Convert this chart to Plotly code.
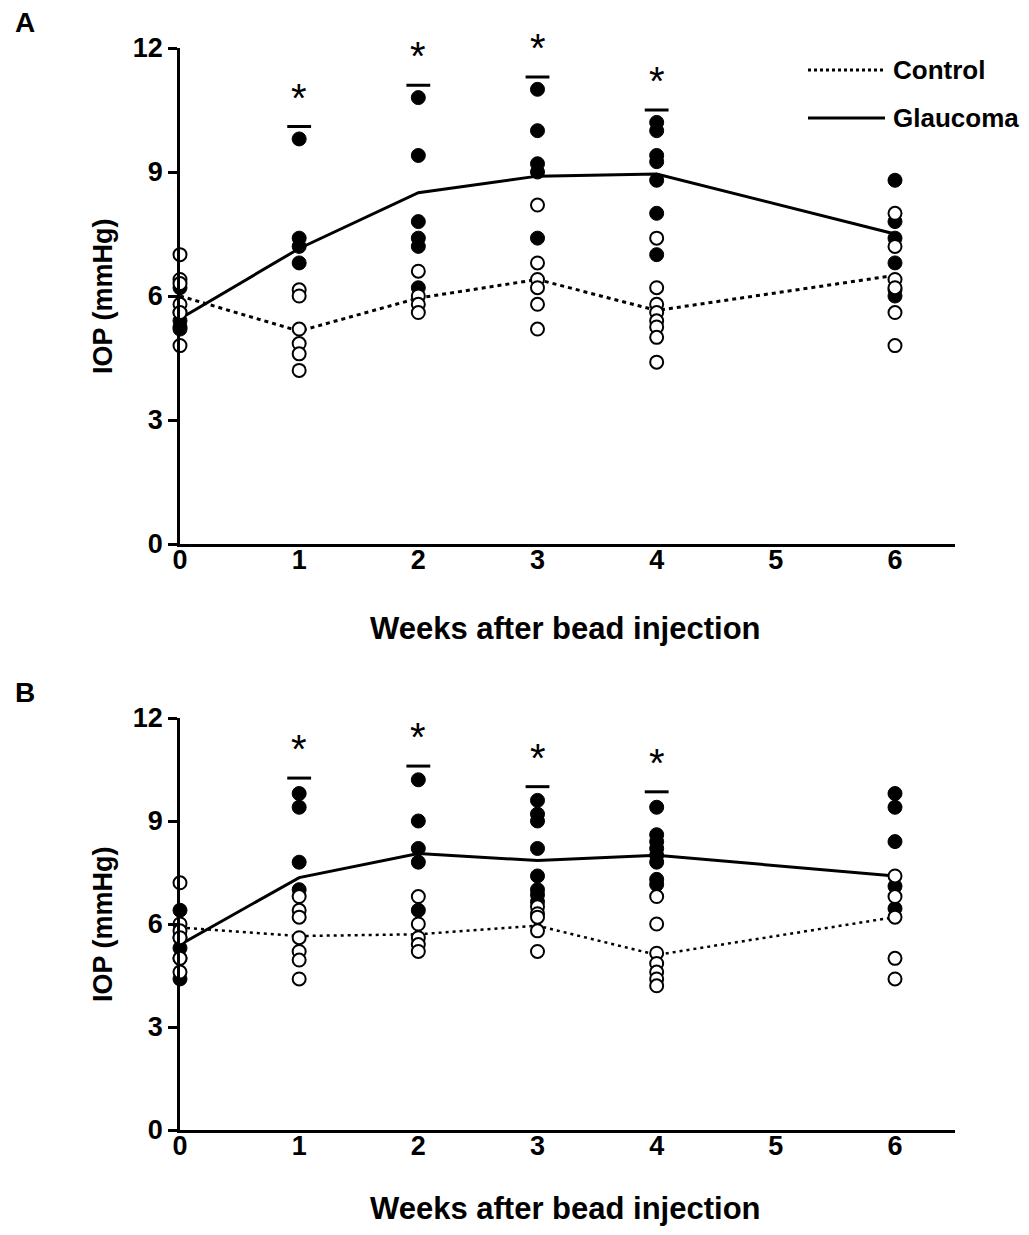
import plotly.graph_objects as go

FONT = "Liberation Sans, Arial, sans-serif"

weeks = [0, 1, 2, 3, 4, 6]
x_ticks = [0, 1, 2, 3, 4, 5, 6]
y_ticks = [0, 3, 6, 9, 12]

# Panel A individual eyes
a_control = [
    [7.0, 6.4, 6.3, 5.8, 5.6, 4.8],
    [6.15, 6.0, 5.2, 4.85, 4.6, 4.2],
    [6.6, 6.0, 5.8, 5.6],
    [8.2, 6.8, 6.4, 6.2, 5.8, 5.2],
    [7.4, 6.2, 5.8, 5.6, 5.4, 5.25, 5.0, 4.4],
    [8.0, 7.2, 6.4, 6.2, 5.6, 4.8],
]
a_glaucoma = [
    [6.2, 5.6, 5.4, 5.25, 5.2],
    [9.8, 7.4, 7.2, 6.8],
    [10.8, 9.4, 7.8, 7.4, 7.2, 6.2],
    [11.0, 10.0, 9.2, 9.0, 7.4],
    [10.2, 10.0, 9.4, 9.25, 8.8, 8.0, 7.0],
    [8.8, 7.8, 7.4, 6.8, 6.15, 6.0],
]
a_control_mean = [6.0, 5.15, 5.95, 6.4, 5.65, 6.5]
a_glaucoma_mean = [5.45, 7.15, 8.5, 8.9, 8.95, 7.5]
a_sig_weeks = [1, 2, 3, 4]
a_sig_level = [10.1, 11.1, 11.3, 10.5]

# Panel B individual eyes
b_control = [
    [7.2, 6.0, 5.8, 5.6, 5.0, 4.6],
    [6.8, 6.4, 6.2, 5.6, 5.2, 4.95, 4.4],
    [6.8, 6.0, 5.6, 5.4, 5.2],
    [6.5, 6.3, 6.2, 5.8, 5.2],
    [6.8, 6.0, 5.15, 4.85, 4.6, 4.4, 4.2],
    [7.4, 6.8, 6.2, 5.0, 4.4],
]
b_glaucoma = [
    [6.4, 5.6, 5.3, 5.0, 4.4],
    [9.8, 9.4, 7.8, 7.0],
    [10.2, 9.0, 8.2, 7.8, 6.4],
    [9.6, 9.2, 9.0, 8.2, 7.4, 7.0, 6.85, 6.65],
    [9.4, 8.6, 8.4, 8.2, 8.0, 7.8, 7.3, 7.15],
    [9.8, 9.4, 8.4, 7.1, 6.45],
]
b_control_mean = [5.9, 5.65, 5.7, 5.95, 5.1, 6.2]
b_glaucoma_mean = [5.4, 7.35, 8.05, 7.85, 8.0, 7.4]
b_sig_weeks = [1, 2, 3, 4]
b_sig_level = [10.25, 10.6, 10.0, 9.85]

# page body has an 8px margin: figure is sized to fit the window inside it
OFF = 8
W, H = 1029 - 2 * OFF, 1235 - 2 * OFF


def fx(px):
    return (px - OFF) / W


def fy(py):
    return 1 - (py - OFF) / H


def flat(groups):
    xs, ys = [], []
    for w, vals in zip(weeks, groups):
        for v in vals:
            xs.append(w)
            ys.append(v)
    return xs, ys


fig = go.Figure()


def add_panel(xa, ya, ctrl, glau, cmean, gmean, sw, sl, dotw, dotdash):
    xref = "x" + ("" if xa == 1 else str(xa))
    yref = "y" + ("" if ya == 1 else str(ya))
    fig.add_trace(go.Scatter(x=weeks, y=cmean, mode="lines", xaxis=xref, yaxis=yref,
                             line=dict(color="black", width=dotw, dash=dotdash),
                             showlegend=False, hoverinfo="skip", cliponaxis=False))
    fig.add_trace(go.Scatter(x=weeks, y=gmean, mode="lines", xaxis=xref, yaxis=yref,
                             line=dict(color="black", width=3),
                             showlegend=False, hoverinfo="skip", cliponaxis=False))
    gx, gy = flat(glau)
    fig.add_trace(go.Scatter(x=gx, y=gy, mode="markers", xaxis=xref, yaxis=yref,
                             marker=dict(size=14, color="black", line=dict(color="black", width=1)),
                             showlegend=False, cliponaxis=False))
    cx, cy = flat(ctrl)
    fig.add_trace(go.Scatter(x=cx, y=cy, mode="markers", xaxis=xref, yaxis=yref,
                             marker=dict(size=13, color="white", line=dict(color="black", width=2)),
                             showlegend=False, cliponaxis=False))
    bx, by = [], []
    for w, l in zip(sw, sl):
        bx += [w - 0.1, w + 0.1, None]
        by += [l, l, None]
    fig.add_trace(go.Scatter(x=bx, y=by, mode="lines", xaxis=xref, yaxis=yref,
                             line=dict(color="black", width=3),
                             showlegend=False, hoverinfo="skip", cliponaxis=False))
    for w, l in zip(sw, sl):
        fig.add_annotation(x=w, y=l, xref=xref, yref=yref, text="*", showarrow=False,
                           xanchor="center", yanchor="middle", yshift=29,
                           font=dict(family=FONT, size=40, color="black"))


add_panel(1, 1, a_control, a_glaucoma, a_control_mean, a_glaucoma_mean,
          a_sig_weeks, a_sig_level, 3, "4px,4px")
add_panel(2, 2, b_control, b_glaucoma, b_control_mean, b_glaucoma_mean,
          b_sig_weeks, b_sig_level, 2.5, "3px,4px")

x0_px = 180
unit = (895 - 180) / 6.0
xmax = 6.5
x1_px = x0_px + xmax * unit


def xaxis_cfg(anchor):
    return dict(domain=[fx(x0_px), fx(x1_px)], range=[0, xmax], anchor=anchor,
                tickvals=x_ticks, ticktext=["<b>%d</b>" % t for t in x_ticks],
                showline=True, linecolor="black", linewidth=2.5,
                ticks="", ticklabelstandoff=-10,
                showgrid=False, zeroline=False, automargin=False,
                tickfont=dict(family=FONT, size=27, color="black"))


def yaxis_cfg(anchor, top_px, bot_px):
    return dict(domain=[fy(bot_px), fy(top_px)], range=[0, 12], anchor=anchor,
                tickvals=y_ticks, ticktext=["<b>%d</b>" % t for t in y_ticks],
                showline=True, linecolor="black", linewidth=2.5,
                ticks="outside", ticklen=9, tickwidth=2.5, tickcolor="black",
                showgrid=False, zeroline=False, automargin=False,
                tickfont=dict(family=FONT, size=27, color="black"))


fig.update_layout(
    template="none",
    width=W, height=H,
    margin=dict(l=0, r=0, t=0, b=0, pad=0, autoexpand=False),
    paper_bgcolor="white", plot_bgcolor="white",
    xaxis=xaxis_cfg("y"),
    yaxis=yaxis_cfg("x", 48, 544),
    xaxis2=xaxis_cfg("y2"),
    yaxis2=yaxis_cfg("x2", 718, 1130),
    showlegend=False,
)


def label(text, xpx, ypx, size, angle=0, xanchor="center"):
    fig.add_annotation(x=fx(xpx), y=fy(ypx), xref="paper", yref="paper",
                       text=text, showarrow=False, textangle=angle,
                       xanchor=xanchor, yanchor="middle",
                       font=dict(family=FONT, size=size, color="black"))


# axis titles
for ypx in [628, 1208]:
    label("<b>Weeks after bead injection</b>", 565, ypx, 31)
for ypx in [296, 924]:
    label("<b>IOP (mmHg)</b>", 103, ypx, 27, angle=-90)

# panel letters
label("<b>A</b>", 25, 23, 28)
label("<b>B</b>", 25, 693, 28)

# legend (panel A)
legend_items = [("Control", "3px,3px", 70), ("Glaucoma", "solid", 118)]
for name, dash, ypx in legend_items:
    fig.add_shape(type="line", xref="paper", yref="paper",
                  x0=fx(808), x1=fx(885), y0=fy(ypx), y1=fy(ypx),
                  line=dict(color="black", width=3, dash=dash))
    label("<b>%s</b>" % name, 891, ypx, 26, xanchor="left")

fig.write_html("out.html")
